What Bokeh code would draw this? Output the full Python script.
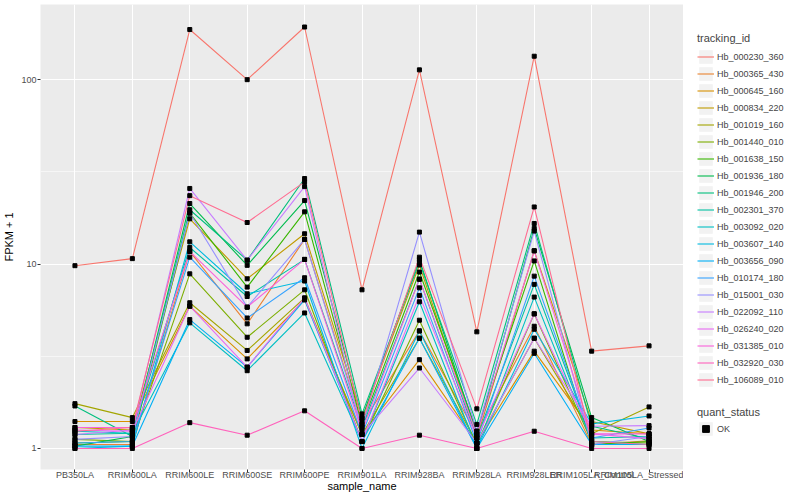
from bokeh.plotting import figure
from bokeh.layouts import row
from bokeh.models import Range1d, FixedTicker, Legend, LegendItem, ColumnDataSource, NumeralTickFormatter
from bokeh.embed import file_html
from bokeh.resources import INLINE

FONT = "Liberation Sans"

samples = ["PB350LA", "RRIM600LA", "RRIM600LE", "RRIM600SE", "RRIM600PE", "RRIM901LA",
           "RRIM928BA", "RRIM928LA", "RRIM928LER", "RRIM105LA_Control", "RRIM105LA_Stressed"]

tracking_ids = ["Hb_000230_360", "Hb_000365_430", "Hb_000645_160", "Hb_000834_220", "Hb_001019_160",
                "Hb_001440_010", "Hb_001638_150", "Hb_001936_180", "Hb_001946_200", "Hb_002301_370",
                "Hb_003092_020", "Hb_003607_140", "Hb_003656_090", "Hb_010174_180", "Hb_015001_030",
                "Hb_022092_110", "Hb_026240_020", "Hb_031385_010", "Hb_032920_030", "Hb_106089_010"]

hb_000230_360 = [9.8, 10.7, 187, 100, 193, 7.25, 113, 4.29, 134, 3.37, 3.6]
hb_000365_430 = [1.05, 1.05, 11.7, 4.74, 13.6, 1.35, 4.34, 1.19, 4.6, 1.05, 1.1]
hb_000645_160 = [1.40, 1.40, 5.91, 3.06, 6.4, 1.19, 3.03, 1.07, 3.37, 1.26, 1.2]
hb_000834_220 = [1.3, 1.26, 17.6, 8.32, 14.6, 1.46, 9.88, 1.14, 11.8, 1.40, 1.2]
hb_001019_160 = [1.75, 1.47, 6.17, 3.40, 6.55, 1.19, 3.96, 1.07, 3.96, 1.20, 1.68]
hb_001440_010 = [1.12, 1.09, 8.85, 4.01, 7.25, 1.09, 4.96, 1.05, 5.37, 1.09, 1.07]
hb_001638_150 = [1.07, 1.09, 18.9, 7.5, 19.2, 1.35, 9.05, 1.24, 10.4, 1.05, 1.09]
hb_001936_180 = [1.03, 1.16, 21.3, 9.84, 22.1, 1.46, 10.6, 1.19, 15.6, 1.47, 1.09]
hb_001946_200 = [1.70, 1.16, 19.7, 10.5, 29.1, 1.54, 10.25, 1.35, 16.6, 1.32, 1.13]
hb_002301_370 = [1.19, 1.21, 12.3, 6.67, 10.6, 1.3, 8.28, 1.14, 7.76, 1.14, 1.16]
hb_003092_020 = [1.24, 1.21, 4.8, 2.64, 5.43, 1.09, 6.24, 1.0, 6.62, 1.09, 1.05]
hb_003607_140 = [1.0, 1.03, 13.2, 6.9, 8.09, 1.0, 4.34, 1.0, 4.43, 1.36, 1.50]
hb_003656_090 = [1.03, 1.03, 5.0, 2.76, 6.4, 1.09, 3.96, 1.0, 3.28, 1.05, 1.05]
hb_010174_180 = [1.07, 1.09, 10.9, 5.1, 8.43, 1.19, 7.43, 1.07, 8.6, 1.14, 1.29]
hb_015001_030 = [1.12, 1.16, 18.9, 5.84, 13.6, 1.3, 14.9, 1.24, 15.1, 1.05, 1.16]
hb_022092_110 = [1.19, 1.26, 25.7, 10.5, 26.3, 1.19, 2.73, 1.07, 3.96, 1.32, 1.33]
hb_026240_020 = [1.26, 1.24, 5.91, 2.76, 6.55, 1.09, 6.76, 1.14, 5.37, 1.2, 1.13]
hb_031385_010 = [1.3, 1.3, 11.7, 5.84, 10.6, 1.24, 8.28, 1.19, 11.8, 1.2, 1.2]
hb_032920_030 = [1.0, 1.0, 1.38, 1.18, 1.6, 1.0, 1.18, 1.0, 1.24, 1.0, 1.0]
hb_106089_010 = [1.24, 1.3, 23.5, 16.8, 27.9, 1.4, 10.9, 1.64, 20.4, 1.09, 1.05]

series = [hb_000230_360, hb_000365_430, hb_000645_160, hb_000834_220, hb_001019_160,
          hb_001440_010, hb_001638_150, hb_001936_180, hb_001946_200, hb_002301_370,
          hb_003092_020, hb_003607_140, hb_003656_090, hb_010174_180, hb_015001_030,
          hb_022092_110, hb_026240_020, hb_031385_010, hb_032920_030, hb_106089_010]

colors = ["#F8766D", "#EA8331", "#D89000", "#C09B00", "#A3A500", "#7CAE00", "#39B600", "#00BB4E",
          "#00BF7D", "#00C1A3", "#00BFC4", "#00BAE0", "#00B0F6", "#35A2FF", "#9590FF", "#C77CFF",
          "#E76BF3", "#FA62DB", "#FF62BC", "#FF6C91"]

quant_status = ["OK"]

x_idx = list(range(len(samples)))

H = 494
TOP, BOT = 4, 468      # frame edges (px); value 1 at 447, 184 px per decade
p = figure(width=683, height=H,
           x_range=Range1d(-0.6, len(samples) - 1 + 0.6),
           y_range=Range1d(10 ** ((447 - BOT) / 184), 10 ** ((447 - TOP) / 184)),
           y_axis_type="log", output_backend="svg", toolbar_location=None,
           min_border_left=40, min_border_right=0, min_border_top=TOP, min_border_bottom=0)

p.background_fill_color = "#EBEBEB"
p.border_fill_color = "white"
p.outline_line_color = None

p.xgrid.ticker = FixedTicker(ticks=x_idx)
p.ygrid.ticker = FixedTicker(ticks=[1, 10, 100], minor_ticks=[10 ** 0.5, 10 ** 1.5])
for g in (p.xgrid, p.ygrid):
    g.grid_line_color = "white"
    g.grid_line_width = 1.1
p.ygrid.minor_grid_line_color = "white"
p.ygrid.minor_grid_line_width = 0.55

p.xaxis.ticker = FixedTicker(ticks=x_idx)
p.xaxis.major_label_overrides = {i: s for i, s in enumerate(samples)}
p.yaxis.ticker = FixedTicker(ticks=[1, 10, 100])
p.yaxis.formatter = NumeralTickFormatter(format="0")
for ax in (p.xaxis, p.yaxis):
    ax.axis_line_color = None
    ax.major_tick_line_color = "#333333"
    ax.major_tick_out = 3
    ax.major_tick_in = 0
    ax.minor_tick_line_color = None
    ax.major_label_text_font = FONT
    ax.major_label_text_font_size = "9px"
    ax.major_label_text_color = "#4D4D4D"
    ax.major_label_text_line_height = 1.0
    ax.axis_label_text_font = FONT
    ax.axis_label_text_font_size = "11px"
    ax.axis_label_text_font_style = "normal"
    ax.axis_label_text_color = "black"
    ax.axis_label_text_line_height = 1.0
p.xaxis.major_label_standoff = -3
p.xaxis.axis_label_standoff = -3
p.yaxis.major_label_standoff = 1
p.yaxis.axis_label_standoff = 3
p.xaxis.axis_label = "sample_name"
p.yaxis.axis_label = "FPKM + 1"

for vals, col in zip(series, colors):
    p.line(x_idx, vals, line_color=col, line_width=1.1)

px, py = [], []
for vals in series:
    px.extend(x_idx)
    py.extend(vals)
src = ColumnDataSource(dict(x=px, y=py))
p.scatter("x", "y", source=src, marker="square", size=4, fill_color="black", line_color="black")

# legend panel
lp = figure(width=117, height=H, x_range=Range1d(0, 1), y_range=Range1d(0, 1),
            output_backend="svg", toolbar_location=None,
            x_axis_location=None, y_axis_location=None,
            min_border_left=0, min_border_right=0, min_border_top=0, min_border_bottom=0)
lp.grid.visible = False
lp.outline_line_color = None
lp.background_fill_color = "white"
lp.border_fill_color = "white"

# key renderers (placed outside the visible range; only their legend glyphs show)
key_bg = lp.quad(left=[5], right=[6], bottom=[5], top=[6], fill_color="#F2F2F2", line_color=None)
key_lines = [lp.line([5, 6], [5, 5], line_color=col, line_width=1.1) for col in colors]
key_pt = lp.scatter([5], [5], marker="square", size=4, fill_color="black", line_color="black")


def style_legend(leg, standoff):
    leg.title_text_font = FONT
    leg.title_text_font_size = "11px"
    leg.title_text_font_style = "normal"
    leg.title_standoff = standoff
    leg.label_text_font = FONT
    leg.label_text_font_size = "9px"
    leg.glyph_height = 17
    leg.glyph_width = 17
    leg.label_height = 17
    leg.label_standoff = 3
    leg.spacing = 0
    leg.padding = 0
    leg.margin = 0
    leg.border_line_color = None
    leg.background_fill_color = "white"
    leg.background_fill_alpha = 1.0


leg1 = Legend(items=[LegendItem(label=t, renderers=[key_bg, r]) for t, r in zip(tracking_ids, key_lines)],
              title="tracking_id", location=(14, 81))
style_legend(leg1, 4)
lp.add_layout(leg1)

leg2 = Legend(items=[LegendItem(label=quant_status[0], renderers=[key_bg, key_pt])],
              title="quant_status", location=(14, 32))
style_legend(leg2, 2)
lp.add_layout(leg2)

layout = row(p, lp)
open("out.html", "w").write(file_html(layout, INLINE))
